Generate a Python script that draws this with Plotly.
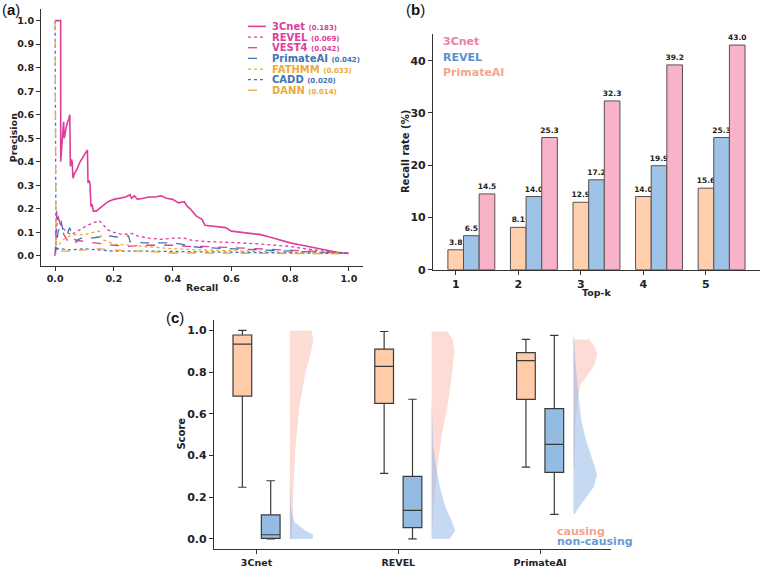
import plotly.graph_objects as go

W, H = 761, 569
def px(x): return x / W
def py(y): return 1 - y / H

FONT = "DejaVu Sans"
MAG, BLU, GLD = "#DC3F9B", "#3E74B8", "#EDAA3A"

# ---------------- Panel (a): precision-recall curves ----------------
models_a = ["3Cnet", "REVEL", "VEST4", "PrimateAI", "FATHMM", "CADD", "DANN"]
auprc_a = [0.183, 0.069, 0.042, 0.042, 0.033, 0.020, 0.014]

rec_3cnet = [0.0, 0.019, 0.019, 0.022, 0.026, 0.029, 0.031, 0.035, 0.04, 0.046, 0.05, 0.052, 0.056, 0.058,
             0.061, 0.066, 0.075, 0.085, 0.095, 0.105, 0.11, 0.112, 0.117, 0.119, 0.122, 0.126, 0.13, 0.14,
             0.16, 0.18, 0.2, 0.22, 0.24, 0.255, 0.26, 0.27, 0.28, 0.3, 0.32, 0.34, 0.36, 0.38, 0.4, 0.42,
             0.44, 0.45, 0.46, 0.48, 0.5, 0.51, 0.55, 0.58, 0.6, 0.63, 0.66, 0.7, 0.73, 0.76, 0.8, 0.84,
             0.88, 0.92, 0.96, 1.0]
prec_3cnet = [1.0, 1.0, 0.40, 0.45, 0.52, 0.57, 0.50, 0.53, 0.56, 0.58, 0.60, 0.38, 0.41, 0.40,
              0.33, 0.35, 0.37, 0.40, 0.42, 0.44, 0.45, 0.31, 0.32, 0.30, 0.21, 0.22, 0.19, 0.19,
              0.21, 0.23, 0.24, 0.245, 0.25, 0.26, 0.245, 0.255, 0.24, 0.245, 0.25, 0.25, 0.255, 0.245, 0.24, 0.225,
              0.23, 0.21, 0.20, 0.17, 0.155, 0.13, 0.125, 0.12, 0.105, 0.10, 0.095, 0.09, 0.08, 0.07, 0.055, 0.045,
              0.035, 0.025, 0.015, 0.01]

rec_revel = [0.0, 0.008, 0.015, 0.025, 0.04, 0.055, 0.07, 0.09, 0.11, 0.13, 0.15, 0.165, 0.18, 0.2, 0.23,
             0.26, 0.28, 0.32, 0.36, 0.4, 0.44, 0.47, 0.52, 0.6, 0.65, 0.7, 0.75, 0.8, 0.85, 0.9, 0.95, 1.0]
prec_revel = [0.0, 0.17, 0.14, 0.12, 0.10, 0.09, 0.10, 0.115, 0.13, 0.14, 0.15, 0.13, 0.11, 0.10, 0.09,
              0.095, 0.085, 0.075, 0.07, 0.075, 0.075, 0.065, 0.06, 0.057, 0.055, 0.05, 0.045, 0.04, 0.03, 0.022, 0.015, 0.01]

rec_vest4 = [0.0, 0.006, 0.012, 0.02, 0.03, 0.045, 0.06, 0.08, 0.1, 0.13, 0.16, 0.2, 0.25, 0.3, 0.35, 0.4,
             0.45, 0.5, 0.6, 0.7, 0.8, 0.9, 1.0]
prec_vest4 = [0.0, 0.20, 0.16, 0.12, 0.09, 0.06, 0.05, 0.065, 0.06, 0.055, 0.05, 0.045, 0.04, 0.045, 0.045, 0.045,
              0.04, 0.04, 0.035, 0.03, 0.025, 0.018, 0.01]

rec_primate = [0.0, 0.01, 0.02, 0.028, 0.04, 0.05, 0.06, 0.07, 0.09, 0.12, 0.15, 0.18, 0.21, 0.25, 0.255,
               0.3, 0.35, 0.4, 0.43, 0.46, 0.5, 0.6, 0.7, 0.8, 0.9, 1.0]
prec_primate = [0.0, 0.10, 0.15, 0.10, 0.09, 0.12, 0.08, 0.065, 0.075, 0.075, 0.08, 0.085, 0.08, 0.085, 0.06,
                0.055, 0.055, 0.055, 0.05, 0.04, 0.035, 0.03, 0.025, 0.02, 0.015, 0.01]

rec_fathmm = [0.0, 0.01, 0.02, 0.04, 0.07, 0.1, 0.13, 0.15, 0.16, 0.2, 0.25, 0.3, 0.4, 0.5, 0.6, 0.7, 0.8, 0.9, 1.0]
prec_fathmm = [0.0, 0.04, 0.06, 0.08, 0.09, 0.09, 0.10, 0.105, 0.07, 0.05, 0.045, 0.04, 0.03, 0.025, 0.02,
               0.018, 0.015, 0.012, 0.01]

rec_cadd = [0.0, 0.003, 0.02, 0.05, 0.1, 0.15, 0.2, 0.3, 0.4, 0.5, 0.6, 0.7, 0.8, 0.9, 1.0]
prec_cadd = [1.0, 0.03, 0.03, 0.025, 0.03, 0.025, 0.02, 0.02, 0.018, 0.015, 0.014, 0.013, 0.012, 0.011, 0.01]

rec_dann = [0.0, 0.003, 0.01, 0.05, 0.1, 0.15, 0.2, 0.25, 0.3, 0.4, 0.5, 0.6, 0.7, 0.8, 0.9, 1.0]
prec_dann = [1.0, 0.03, 0.02, 0.02, 0.025, 0.03, 0.025, 0.02, 0.02, 0.012, 0.012, 0.011, 0.011, 0.01, 0.01, 0.008]

curves_a = [
    (rec_3cnet, prec_3cnet, MAG, "solid", 1.6),
    (rec_revel, prec_revel, MAG, "dot", 1.3),
    (rec_vest4, prec_vest4, MAG, "dash", 1.3),
    (rec_primate, prec_primate, BLU, "dash", 1.3),
    (rec_fathmm, prec_fathmm, GLD, "dot", 1.3),
    (rec_cadd, prec_cadd, BLU, "dot", 1.3),
    (rec_dann, prec_dann, GLD, "dash", 1.3),
]

# ---------------- Panel (b): recall rate bars ----------------
topk = [1, 2, 3, 4, 5]
recall_primateai = [3.8, 8.1, 12.9, 14.0, 15.6]
recall_revel = [6.5, 14.0, 17.2, 19.9, 25.3]
recall_3cnet = [14.5, 25.3, 32.3, 39.2, 43.0]

# ---------------- Panel (c): score distributions ----------------
tools_c = ["3Cnet", "REVEL", "PrimateAI"]
# causing
c_low = [0.248, 0.314, 0.344]
c_q1 = [0.685, 0.650, 0.669]
c_med = [0.934, 0.828, 0.855]
c_q3 = [0.978, 0.910, 0.894]
c_high = [1.000, 0.995, 0.957]
# non-causing
n_low = [0.0, 0.0, 0.118]
n_q1 = [0.003, 0.054, 0.319]
n_med = [0.020, 0.137, 0.454]
n_q3 = [0.115, 0.300, 0.625]
n_high = [0.279, 0.670, 0.976]

# half-violin density profiles (score level, relative density)
dens_c_y = [[1.0, 0.96, 0.9, 0.8, 0.64, 0.45, 0.28, 0.1, 0.0],
            [0.995, 0.95, 0.9, 0.77, 0.64, 0.5, 0.34, 0.18, 0.05, 0.0],
            [0.957, 0.92, 0.886, 0.83, 0.78, 0.74, 0.66, 0.53, 0.344]]
dens_c_w = [[0.89, 0.97, 0.89, 0.65, 0.40, 0.24, 0.16, 0.11, 0.08],
            [0.66, 0.89, 0.95, 0.82, 0.66, 0.42, 0.23, 0.10, 0.03, 0.0],
            [0.66, 0.89, 1.0, 0.85, 0.53, 0.29, 0.16, 0.08, 0.05]]
dens_n_y = [[0.3, 0.15, 0.08, 0.04, 0.02, 0.0],
            [0.67, 0.6, 0.45, 0.35, 0.25, 0.15, 0.09, 0.04, 0.0],
            [0.976, 0.85, 0.72, 0.56, 0.47, 0.36, 0.31, 0.25, 0.2, 0.15, 0.118]]
dens_n_w = [[0.0, 0.05, 0.19, 0.65, 0.97, 0.94],
            [0.0, 0.02, 0.06, 0.18, 0.34, 0.58, 0.82, 0.98, 0.74],
            [0.02, 0.08, 0.18, 0.34, 0.53, 0.85, 0.98, 0.85, 0.53, 0.21, 0.05]]

fig = go.Figure()

# ---- (a) traces
for (r, p, col, dash, lw) in curves_a:
    fig.add_trace(go.Scatter(x=r, y=p, mode="lines", line=dict(color=col, dash=dash, width=lw),
                             xaxis="x", yaxis="y", showlegend=False, hoverinfo="skip"))

# ---- (b) traces
bar_specs = [(recall_primateai, "#FFCFAE", -0.125), (recall_revel, "#9DC3E6", 0.125), (recall_3cnet, "#F9B3C8", 0.375)]
for vals, col, off in bar_specs:
    fig.add_trace(go.Bar(x=topk, y=vals, width=0.25, offset=off, marker=dict(color=col, line=dict(color="#5a5050", width=1)),
                         text=[f"{v:.1f}" for v in vals], textposition="outside", constraintext="none",
                         textfont=dict(family=FONT, size=7.5, color="#222", weight="bold"),
                         cliponaxis=False, xaxis="x2", yaxis="y2", showlegend=False))

# ---- (c) traces
VBASE, VMAX = 0.235, 0.17
def half_violin(i, ys, ws, color):
    base = i + VBASE
    xs = [base] + [base + w * VMAX for w in ws] + [base, base]
    yy = [ys[0]] + ys + [ys[-1], ys[0]]
    return go.Scatter(x=xs, y=yy, mode="lines", fill="toself", fillcolor=color, line=dict(width=0),
                      xaxis="x3", yaxis="y3", showlegend=False, hoverinfo="skip")

for i in range(3):
    fig.add_trace(half_violin(i, dens_c_y[i], dens_c_w[i], "rgba(249,185,172,0.5)"))
for i in range(3):
    fig.add_trace(half_violin(i, dens_n_y[i], dens_n_w[i], "rgba(140,180,230,0.5)"))

for off, lo, q1, med, q3, hi, col in [(-0.1, c_low, c_q1, c_med, c_q3, c_high, "#FFCBA8"),
                                      (0.1, n_low, n_q1, n_med, n_q3, n_high, "#94BCE3")]:
    fig.add_trace(go.Box(x=[i + off for i in range(3)], q1=q1, median=med, q3=q3, lowerfence=lo, upperfence=hi,
                         width=0.132, whiskerwidth=0.45, fillcolor=col, line=dict(color="#3a3a3a", width=1.2),
                         boxpoints=False, xaxis="x3", yaxis="y3", showlegend=False, orientation="v"))

# ---- axes
tickfont = lambda s: dict(family=FONT, size=s, color="#222", weight="bold")
common = dict(showgrid=False, zeroline=False, showline=True, linecolor="#333", linewidth=1.2,
              ticks="outside", ticklen=4, tickwidth=1, tickcolor="#333")

fig.update_layout(
    width=W, height=H, margin=dict(l=0, r=0, t=0, b=0), paper_bgcolor="white", plot_bgcolor="white",
    barmode="overlay",
    xaxis=dict(domain=[px(41), px(363)], range=[-0.048, 1.048], tickvals=[0, 0.2, 0.4, 0.6, 0.8, 1.0],
               tickformat=".1f", tickfont=tickfont(9.5), anchor="y", **common),
    yaxis=dict(domain=[py(269), py(9)], range=[-0.042, 1.05], tickvals=[i / 10 for i in range(11)],
               tickformat=".1f", tickfont=tickfont(9.5), anchor="x", **common),
    xaxis2=dict(domain=[px(433), px(760)], range=[0.637, 5.864], tickvals=topk, tickfont=tickfont(11),
                anchor="y2", **common),
    yaxis2=dict(domain=[py(273), py(34)], range=[0, 45.2], tickvals=[0, 10, 20, 30, 40], tickfont=tickfont(11),
                anchor="x2", **common),
    xaxis3=dict(domain=[px(214), px(611)], range=[-0.30, 2.50], tickvals=[0, 1, 2], ticktext=tools_c,
                tickfont=tickfont(9.5), anchor="y3", **common),
    yaxis3=dict(domain=[py(556), py(324)], range=[-0.049, 1.05], tickvals=[0, 0.2, 0.4, 0.6, 0.8, 1.0],
                tickformat=".1f", tickfont=tickfont(11), anchor="x3", **common),
)

ann = []
def txt(x, y, s, size, color="#222", angle=0, xanchor="center", family=FONT, bold=True):
    ann.append(dict(x=px(x), y=py(y), xref="paper", yref="paper", text=s, showarrow=False, textangle=angle,
                    xanchor=xanchor, yanchor="middle",
                    font=dict(family=family, size=size, color=color, weight="bold" if bold else "normal")))

# axis titles
txt(13, 140, "Precision", 9.5, angle=-90)
txt(202, 291, "Recall", 9.5)
txt(405, 154, "Recall rate (%)", 10, angle=-90)
txt(596, 296, "Top-k", 9.5)
txt(182, 439, "Score", 10, angle=-90)

# panel labels
txt(0, 10, "(<b>a</b>)", 15, color="#111", xanchor="left", family="Liberation Sans", bold=False)
txt(404, 10, "(<b>b</b>)", 15, color="#111", xanchor="left", family="Liberation Sans", bold=False)
txt(164, 321, "(<b>c</b>)", 15, color="#111", xanchor="left", family="Liberation Sans", bold=False)

# panel (a) legend
shapes = []
leg_rows = [26.7, 37.5, 48.3, 59.1, 69.9, 80.7, 91.3]
for (name, auc, (r, p, col, dash, lw), yy) in zip(models_a, auprc_a, curves_a, leg_rows):
    shapes.append(dict(type="line", xref="paper", yref="paper", x0=px(248), x1=px(266), y0=py(yy), y1=py(yy),
                       line=dict(color=col, dash=dash, width=lw)))
    txt(270, yy, f"{name} <span style='font-size:7px'>({auc:.3f})</span>", 10, color=col, xanchor="left")

# panel (b) legend
txt(441, 42, "3Cnet", 11, color="#EE7FA6", xanchor="left")
txt(441, 58, "REVEL", 11, color="#5B8ED0", xanchor="left")
txt(441, 73.5, "PrimateAI", 11, color="#F7A58A", xanchor="left")

# panel (c) legend
txt(555, 538, "causing", 11, color="#F7A58A", xanchor="left")
txt(555, 548.5, "non-causing", 11, color="#6A9BD1", xanchor="left")

fig.update_layout(annotations=ann, shapes=shapes)
fig.write_html("out.html", config={"displayModeBar": False},
               post_script="document.body.style.margin='0';document.body.style.padding='0';")
